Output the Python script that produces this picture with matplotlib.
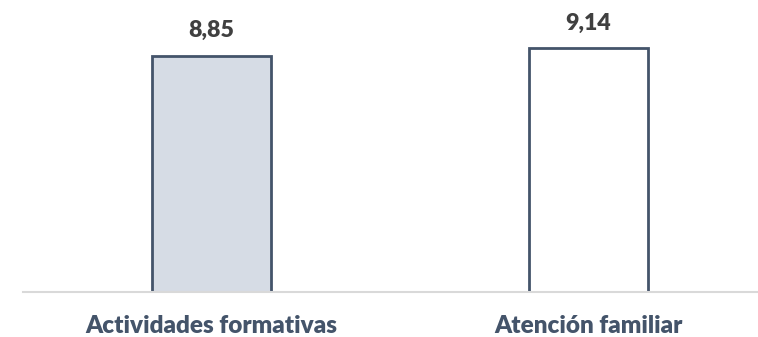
import matplotlib
matplotlib.use("Agg")
import matplotlib.pyplot as plt

categories = ["Actividades formativas", "Atención familiar"]
values = [8.85, 9.14]
value_labels = ["8,85", "9,14"]
fills = ["#D6DCE5", "#FFFFFF"]

fig = plt.figure(figsize=(7.58, 3.37), dpi=100)
W, H = 758, 337
ax = fig.add_axes([23 / W, (H - 292) / H, (758 - 23) / W, (292 - 10) / H])
x = list(range(len(categories)))
ax.bar(x, values, width=0.316, color=fills, edgecolor="#44546A", linewidth=2, zorder=2)
ax.set_xlim(-0.5, -0.5 + 735 / 377)
ax.set_ylim(0, 282 / 26.65)
for xi, v, lab in zip(x, values, value_labels):
    ax.annotate(lab, (xi, v), xytext=(0, 19), textcoords="offset pixels",
                ha="center", va="baseline", fontsize=16.7, fontweight="heavy",
                family="Lato", color="#404040")
ax.set_xticks(x)
ax.set_xticklabels(categories, fontsize=17.5, fontweight="heavy", family="Lato", color="#44546A")
ax.tick_params(axis="x", length=0, pad=16.5)
ax.set_yticks([])
for s in ["top", "right", "left"]:
    ax.spines[s].set_visible(False)
ax.spines["bottom"].set_color("#D9D9D9")
ax.spines["bottom"].set_linewidth(1.5)
ax.spines["bottom"].set_zorder(3)
fig.savefig("out.png", dpi=100)
